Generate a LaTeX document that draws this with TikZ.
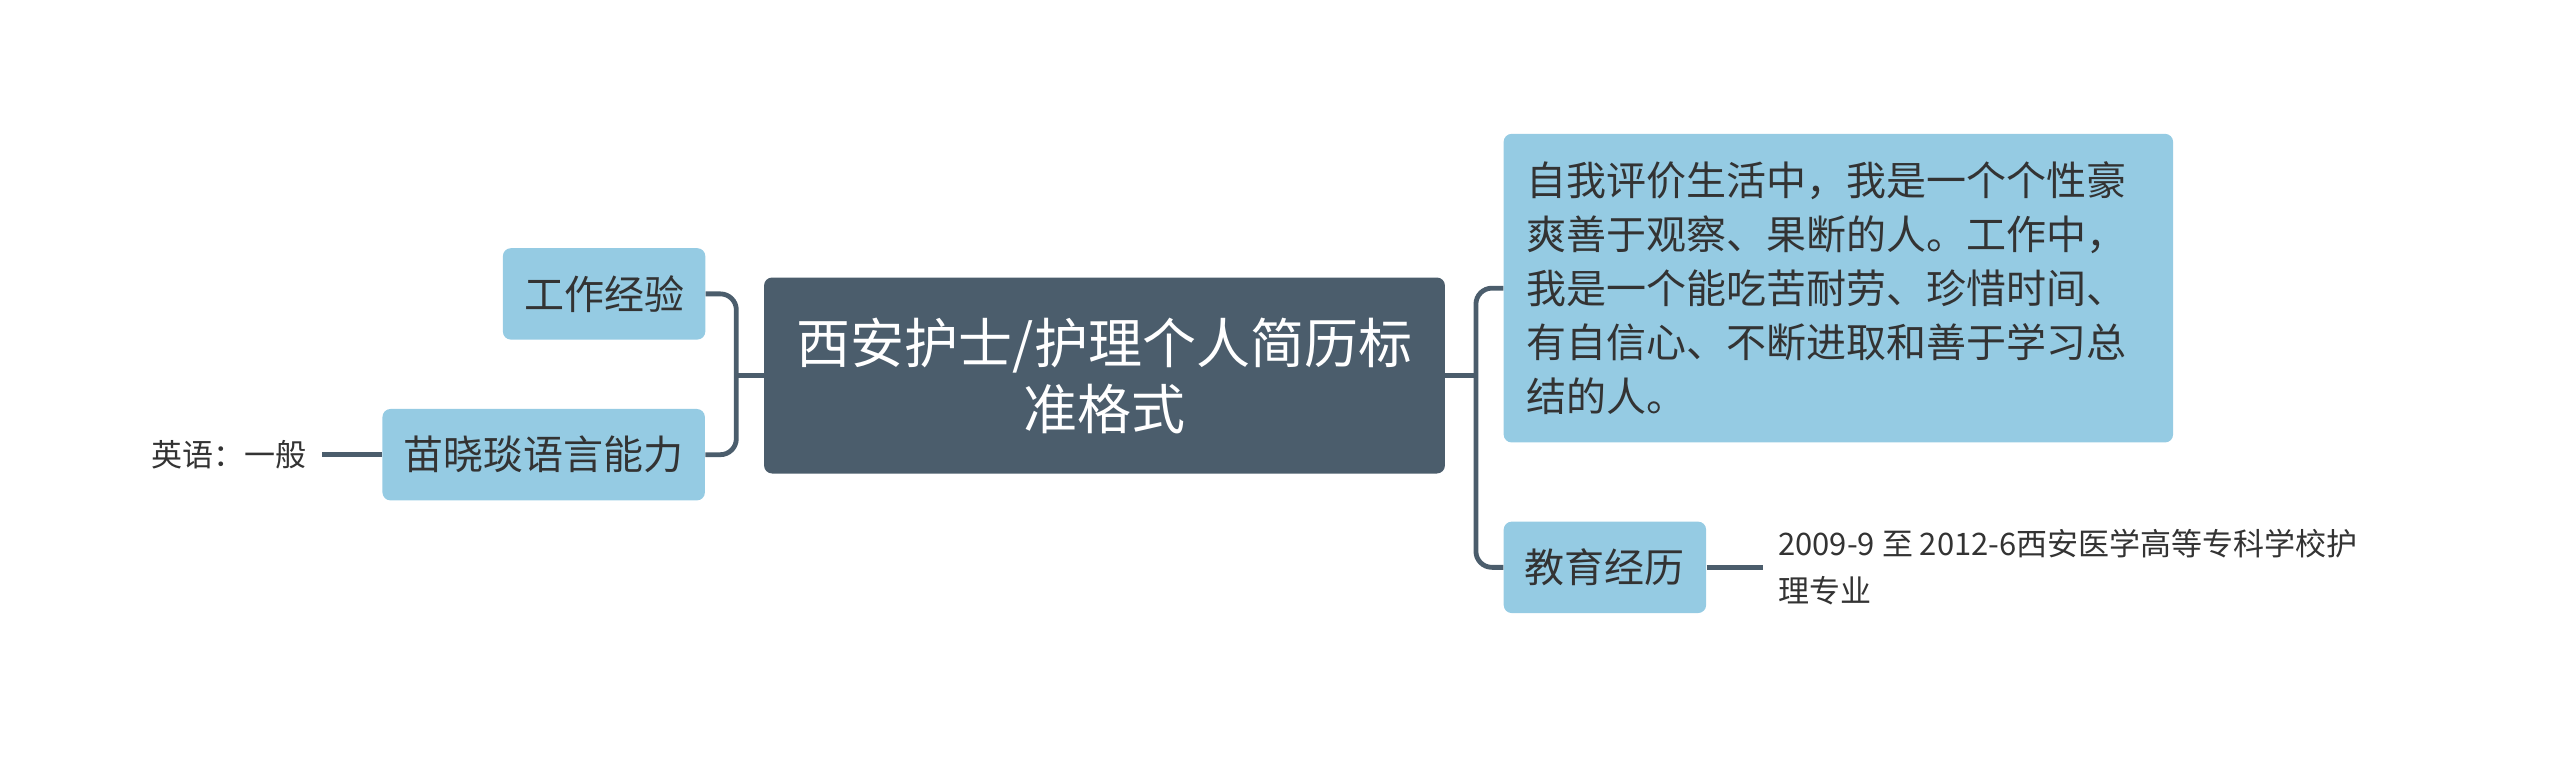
\documentclass[tikz,border=0pt]{standalone}
\usepackage{fontspec}
\newfontfamily\cjk{Noto Sans CJK SC}
\definecolor{slate}{HTML}{4B5D6C}
\definecolor{skyfill}{HTML}{95CBE3}
\definecolor{ink}{HTML}{333333}
\begin{document}
\begin{tikzpicture}[x=0.8163pt,y=-0.8163pt]
        \tikzstyle{topic}=[rectangle,rounded corners=4pt,fill=slate,text=white,align=center,inner sep=0pt,minimum width=340.4pt,minimum height=98pt,font=\cjk\fontsize{27}{33}\selectfont]
        \tikzstyle{branch}=[rectangle,rounded corners=4pt,fill=skyfill,text=ink,inner xsep=10.6pt,inner ysep=0pt,minimum height=45.7pt,font=\cjk\fontsize{20}{27}\selectfont]
        \tikzstyle{leaf}=[inner xsep=7.3pt,inner ysep=0pt,text=ink,align=left,font=\cjk\fontsize{15.5}{23.7}\selectfont]
        \tikzstyle{conn}=[draw=slate,line width=2.4pt,rounded corners=8pt]
        \useasboundingbox (0,0) rectangle (1568,465);
       \begin{scope}
         \node [topic] (center) at (676.5,230) {西安护士/护理个人简历标\\准格式};
         \node [branch] (work) at (370,180) {工作经验};
         \node [branch] (lang) at (333,278.5) {苗晓琰语言能力};
         \node [branch,align=left,text width=311.9pt,inner xsep=11.4pt,minimum height=154.3pt] (eval) at (1126,176.5) {自我评价生活中，我是一个个性豪\\爽善于观察、果断的人。工作中，\\我是一个能吃苦耐劳、珍惜时间、\\有自信心、不断进取和善于学习总\\结的人。};
         \node [branch] (edu) at (983,347.5) {教育经历};
         \node [leaf,anchor=east] (eng) at (197,278.5) {英语：一般};
         \node [leaf,anchor=west] (school) at (1080,347.5) {2009-9 至 2012-6西安医学高等专科学校护\\理专业};
         \coordinate (ljoint) at (451,230);
         \coordinate (rjoint) at (904,230);
         \draw[conn] (center.west) -- (ljoint);
         \draw[conn] (work.east) -| (ljoint) |- (lang.east);
         \draw[conn] (center.east) -- (rjoint);
         \draw[conn] (eval.west) -| (rjoint) |- (edu.west);
         \draw[conn] (lang.west) -- (eng.east);
         \draw[conn] (edu.east) -- (school.west);
        \end{scope}
      \end{tikzpicture}
\end{document}
